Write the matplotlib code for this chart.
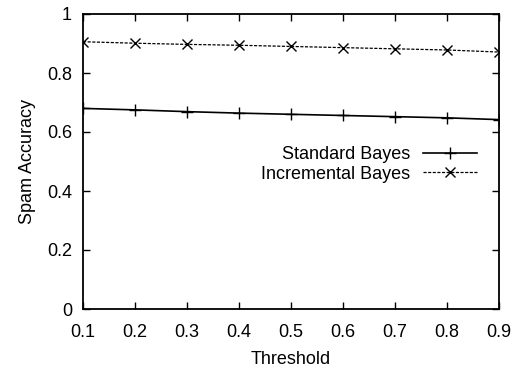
import matplotlib
matplotlib.use('Agg')
import matplotlib.pyplot as plt

plt.rcParams['font.family'] = ['Liberation Sans', 'DejaVu Sans']

threshold = [0.1, 0.2, 0.3, 0.4, 0.5, 0.6, 0.7, 0.8, 0.9]
standard_bayes = [0.680, 0.675, 0.669, 0.664, 0.660, 0.656, 0.652, 0.648, 0.642]
incremental_bayes = [0.906, 0.901, 0.897, 0.894, 0.890, 0.886, 0.882, 0.878, 0.871]

fig = plt.figure(figsize=(5.23, 3.7), dpi=100)
ax = fig.add_axes([83/523, 1 - 309/370, 416/523, 295/370])

ax.plot(threshold, standard_bayes, color='black', lw=1.2, marker='+', ms=9,
        mew=1.0, label='Standard Bayes')
ax.plot(threshold, incremental_bayes, color='black', lw=0.9, ls=(0, (2.5, 1.2)),
        marker='x', ms=7, mew=1.0, label='Incremental Bayes')

ax.set_xlim(0.1, 0.9)
ax.set_ylim(0, 1)
ax.set_xticks(threshold)
ax.set_xticklabels(['0.1', '0.2', '0.3', '0.4', '0.5', '0.6', '0.7', '0.8', '0.9'])
ax.set_yticks([0, 0.2, 0.4, 0.6, 0.8, 1])
ax.set_yticklabels(['0', '0.2', '0.4', '0.6', '0.8', '1'])
ax.tick_params(direction='in', top=True, right=True, labelsize=13, length=5,
               width=1.0, pad=8)
ax.tick_params(axis='x', pad=11)
for s in ax.spines.values():
    s.set_linewidth(1.3)

ax.set_xlabel('Threshold', fontsize=13, labelpad=7)
ax.set_ylabel('Spam Accuracy', fontsize=13, labelpad=8)

ax.legend(loc='center right', bbox_to_anchor=(0.947, 0.49), frameon=False,
          markerfirst=False, fontsize=13, handlelength=3.0, handletextpad=0.7,
          labelspacing=0.12, borderaxespad=0, borderpad=0)

fig.savefig('out.png', dpi=100)
